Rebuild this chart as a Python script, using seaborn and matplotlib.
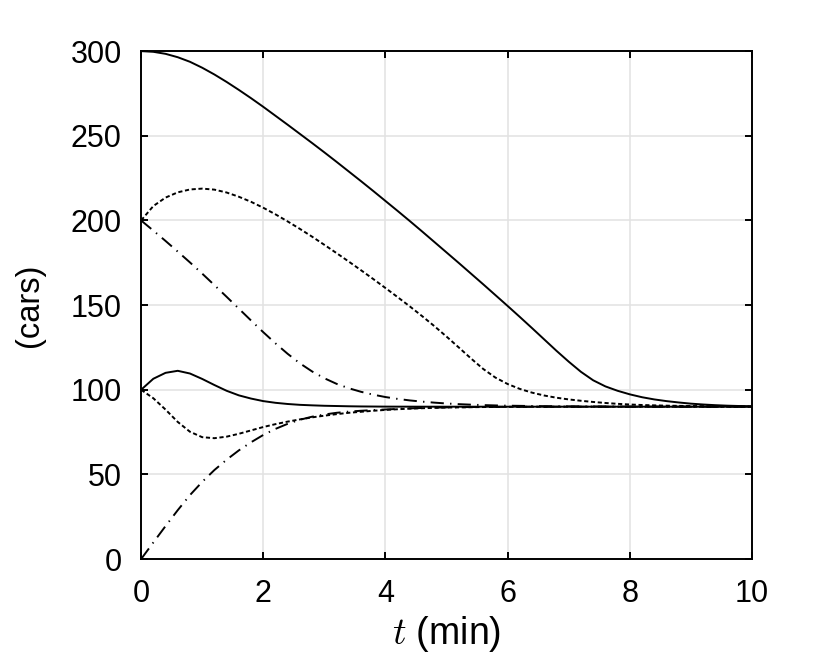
import numpy as np
import pandas as pd
import matplotlib
matplotlib.use("Agg")
import matplotlib.pyplot as plt
import seaborn as sns

# time samples (min)
t = [0.0, 0.2, 0.4, 0.6, 0.8, 1.0, 1.2, 1.4, 1.6, 1.8,
     2.0, 2.2, 2.4, 2.6, 2.8, 3.0, 3.2, 3.4, 3.6, 3.8,
     4.0, 4.2, 4.4, 4.6, 4.8, 5.0, 5.2, 5.4, 5.6, 5.8,
     6.0, 6.2, 6.4, 6.6, 6.8, 7.0, 7.2, 7.4, 7.6, 7.8,
     8.0, 8.2, 8.4, 8.6, 8.8, 9.0, 9.2, 9.4, 9.6, 9.8, 10.0]

# curves (cars)
cars_300_solid = [300, 299.6, 298.4, 296.4, 293.7, 290.2, 286.2, 281.8, 277.1, 272.2,
                  267.1, 261.8, 256.5, 251.1, 245.7, 240.2, 234.6, 228.9, 223.2, 217.4,
                  211.5, 205.6, 199.6, 193.5, 187.3, 181.1, 174.9, 168.6, 162.3, 155.9,
                  149.5, 143.0, 136.4, 129.7, 123.0, 116.6, 110.6, 105.6, 102.0, 99.4,
                  97.3, 95.6, 94.3, 93.3, 92.5, 91.8, 91.3, 90.9, 90.6, 90.4, 90.25]
cars_200_dashed = [200, 208.5, 213.5, 216.6, 218.3, 218.8, 218.2, 216.5, 214.0, 211.0,
                   207.5, 203.6, 199.4, 195.0, 190.4, 185.6, 180.7, 175.7, 170.6, 165.4,
                   160.1, 154.7, 149.2, 143.5, 137.6, 131.4, 125.0, 118.5, 112.3, 107.2,
                   103.4, 100.5, 98.3, 96.6, 95.3, 94.3, 93.5, 92.8, 92.2, 91.7,
                   91.3, 91.0, 90.8, 90.6, 90.5, 90.4, 90.3, 90.2, 90.15, 90.1, 90.05]
cars_200_dashdot = [200, 194.0, 187.9, 181.6, 175.2, 168.6, 161.8, 154.9, 147.9, 140.9,
                    134.0, 127.4, 121.2, 115.6, 110.8, 106.8, 103.5, 100.9, 98.8, 97.1,
                    95.7, 94.6, 93.7, 93.0, 92.4, 91.9, 91.5, 91.2, 90.95, 90.75,
                    90.6, 90.5, 90.4, 90.3, 90.25, 90.2, 90.15, 90.12, 90.1, 90.08,
                    90.06, 90.05, 90.04, 90.03, 90.02, 90.02, 90.01, 90.01, 90, 90, 90]
cars_100_solid = [100, 106.5, 110.0, 111.2, 109.6, 106.4, 102.8, 99.4, 96.7, 94.8,
                  93.3, 92.3, 91.6, 91.1, 90.8, 90.55, 90.4, 90.25, 90.15, 90.1,
                  90.05, 90.03, 90.02, 90.01, 90, 90, 90, 90, 90, 90,
                  90, 90, 90, 90, 90, 90, 90, 90, 90, 90,
                  90, 90, 90, 90, 90, 90, 90, 90, 90, 90, 90]
cars_100_dashed = [100, 95.0, 88.3, 81.0, 75.2, 72.0, 71.4, 72.3, 74.0, 76.0,
                   78.0, 79.7, 81.2, 82.5, 83.7, 84.7, 85.6, 86.4, 87.0, 87.6,
                   88.1, 88.5, 88.85, 89.1, 89.3, 89.5, 89.6, 89.7, 89.8, 89.85,
                   89.9, 89.93, 89.95, 89.97, 89.98, 89.99, 90, 90, 90, 90,
                   90, 90, 90, 90, 90, 90, 90, 90, 90, 90, 90]
cars_0_dashdot = [0, 9.8, 19.5, 28.9, 37.8, 45.6, 52.6, 58.7, 64.2, 69.0,
                  73.3, 76.9, 79.9, 82.3, 84.1, 85.4, 86.4, 87.1, 87.6, 88.0,
                  88.35, 88.7, 89.0, 89.25, 89.45, 89.6, 89.7, 89.8, 89.85, 89.9,
                  89.93, 89.95, 89.97, 89.98, 89.99, 90, 90, 90, 90, 90,
                  90, 90, 90, 90, 90, 90, 90, 90, 90, 90, 90]

x_ticks = [0, 2, 4, 6, 8, 10]
y_ticks = [0, 50, 100, 150, 200, 250, 300]

sns.set_theme(style="whitegrid")
plt.rcParams["font.family"] = ["Liberation Sans", "DejaVu Sans"]
plt.rcParams["mathtext.fontset"] = "cm"
plt.rcParams["lines.scale_dashes"] = False

fig = plt.figure(figsize=(8.3, 6.64), dpi=100)
ax = fig.add_axes([0.170, 0.158, 0.736, 0.765])

solid = "-"
dashed = (0, (3.0, 1.9))
dashdot = (0, (9.5, 4.5, 1.0, 4.5))

series = [
    (cars_300_solid, solid),
    (cars_200_dashed, dashed),
    (cars_200_dashdot, dashdot),
    (cars_100_solid, solid),
    (cars_100_dashed, dashed),
    (cars_0_dashdot, dashdot),
]
for vals, ls in series:
    df = pd.DataFrame({"t": t, "cars": vals})
    sns.lineplot(data=df, x="t", y="cars", ax=ax, color="black",
                 linewidth=1.4, linestyle=ls, zorder=3)

ax.set_xlim(0, 10)
ax.set_ylim(0, 300)
ax.set_xticks(x_ticks)
ax.set_yticks(y_ticks)
ax.grid(True, color="#e2e2e2", linewidth=1.1)
ax.set_facecolor("white")
for sp in ax.spines.values():
    sp.set_color("black")
    sp.set_linewidth(1.4)
    sp.set_visible(True)
ax.tick_params(axis="both", which="major", direction="in", length=5, width=1.4,
               color="black", labelsize=22, labelcolor="black",
               top=True, right=True, bottom=True, left=True, pad=14)
ax.set_xlabel("$t$ (min)", fontsize=27, color="black", labelpad=4)
ax.set_ylabel("(cars)", fontsize=23.5, color="black", labelpad=18)

fig.savefig("out.png", dpi=100, facecolor="white")
